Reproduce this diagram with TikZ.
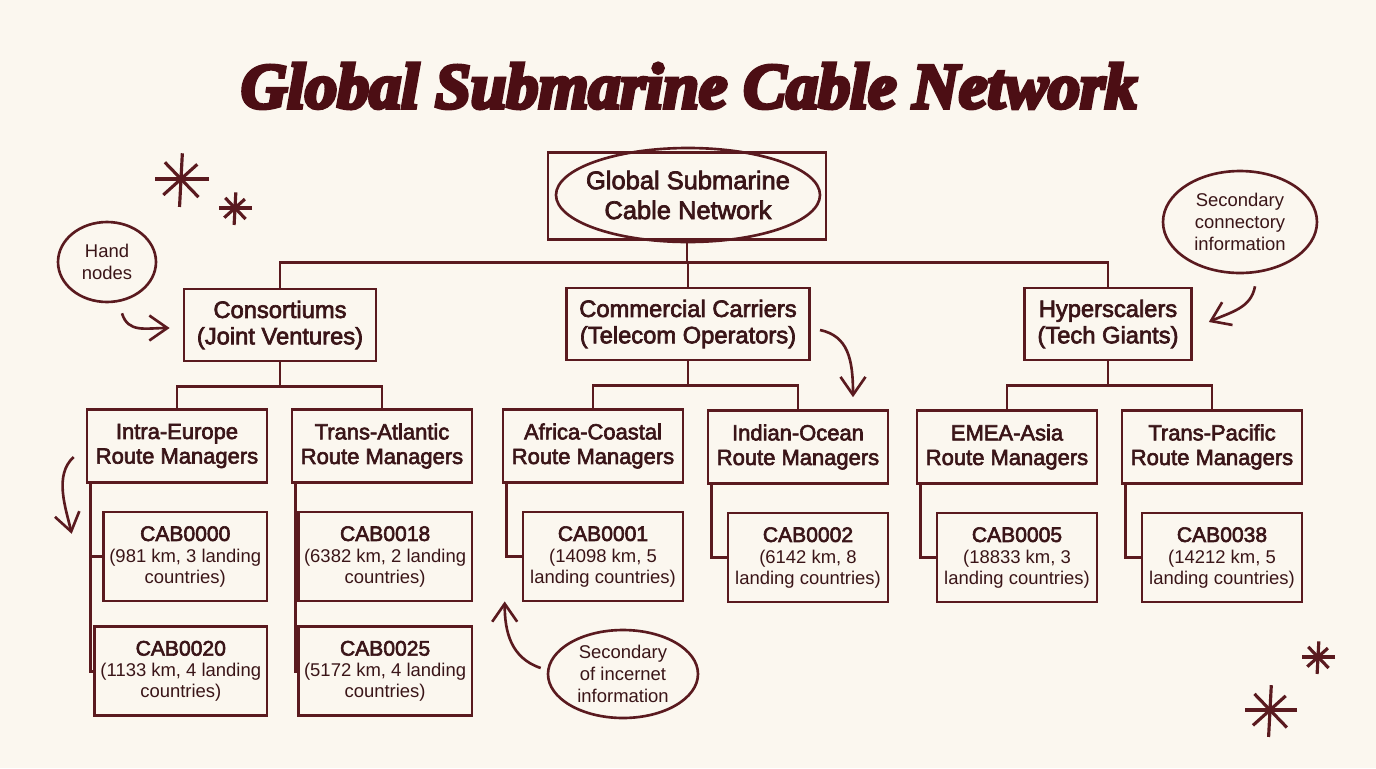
\documentclass[tikz,border=0pt]{standalone}
\usepackage{fontspec}
\setmainfont{Liberation Sans}
\newfontfamily\headfont[FakeBold=2.8]{Liberation Sans}
\newfontfamily\titlefont[FakeBold=6]{Liberation Serif}
\usetikzlibrary{arrows.meta, positioning, calc, shapes.geometric}

\definecolor{ink}{HTML}{5A1A1F}
\definecolor{txt}{HTML}{3A1518}
\definecolor{paper}{HTML}{FBF7EF}
\definecolor{titlered}{HTML}{4C0E14}

\newcommand{\cabtext}[3]{{\headfont\fontsize{12}{14}\selectfont #1}\\#2\\#3}

\begin{document}
\begin{tikzpicture}[
    x=0.02cm, y=-0.02cm,
    color=ink, line width=1.5pt,
    rootbox/.style={align=center, text=txt, font=\headfont\fontsize{14.5}{17}\selectfont},
    group/.style={draw, minimum height=1.44cm, inner xsep=0.26cm, align=center, text=txt, font=\headfont\fontsize{13.5}{15}\selectfont},
    route/.style={draw, minimum width=3.6cm, minimum height=1.46cm, align=center, text=txt, font=\headfont\fontsize{12.5}{14}\selectfont},
    cable/.style={draw, minimum width=3.2cm, minimum height=1.78cm, align=center, text=txt, font=\fontsize{10.5}{12}\selectfont},
    note/.style={ellipse, draw, inner sep=0pt, align=center, text=txt, font=\fontsize{10.5}{12.5}\selectfont},
    arrow/.style={-{Straight Barb[length=3.6mm, width=5mm]}},
    spark/.pic={
        \foreach \a/\r in {0/1, 46/0.9, 93/1, 138/0.85}
            \draw[line width=1.8pt] (\a:\r) -- (\a+180:0.92*\r);
    }
]
\useasboundingbox (0,0) rectangle (1376,768);
\fill[paper] (0,0) rectangle (1376,768);

% Title
\node[text=titlered, font=\titlefont\bfseries\itshape\fontsize{36.5}{42}\selectfont] (title) at (689,86) {Global Submarine Cable Network};

% Root
\node[rootbox] (root) at (688,195) {Global Submarine\\Cable Network};
\draw (root) ellipse [x radius=132, y radius=47];
\node[draw, minimum width=5.56cm, minimum height=1.74cm] (rootframe) at (687,196) {};

% Operator groups
\node[group] (cons) at (280,325) {Consortiums\\(Joint Ventures)};
\node[group] (comm) at (688,324) {Commercial Carriers\\(Telecom Operators)};
\node[group] (hyper) at (1108,324) {Hyperscalers\\(Tech Giants)};

% Route managers
\node[route] (ie) at (177,446) {Intra-Europe\\Route Managers};
\node[route] (ta) at (382,446) {Trans-Atlantic\\Route Managers};
\node[route] (ac) at (593,446) {Africa-Coastal\\Route Managers};
\node[route] (io) at (798,447) {Indian-Ocean\\Route Managers};
\node[route] (ea) at (1007,447) {EMEA-Asia\\Route Managers};
\node[route] (tp) at (1212,447) {Trans-Pacific\\Route Managers};

% Cables
\node[cable, anchor=north east] (c0) at ([yshift=-0.54cm]ie.south east) {\cabtext{CAB0000}{(981 km, 3 landing}{countries)}};
\node[cable, anchor=north east] (c20) at ([yshift=-0.46cm]c0.south east) {\cabtext{CAB0020}{(1133 km, 4 landing}{countries)}};
\node[cable, anchor=north east] (c18) at ([yshift=-0.54cm]ta.south east) {\cabtext{CAB0018}{(6382 km, 2 landing}{countries)}};
\node[cable, anchor=north east] (c25) at ([yshift=-0.46cm]c18.south east) {\cabtext{CAB0025}{(5172 km, 4 landing}{countries)}};
\node[cable, anchor=north east] (c1) at ([yshift=-0.54cm]ac.south east) {\cabtext{CAB0001}{(14098 km, 5}{landing countries)}};
\node[cable, anchor=north east] (c2) at ([yshift=-0.54cm]io.south east) {\cabtext{CAB0002}{(6142 km, 8}{landing countries)}};
\node[cable, anchor=north east] (c5) at ([yshift=-0.54cm]ea.south east) {\cabtext{CAB0005}{(18833 km, 3}{landing countries)}};
\node[cable, anchor=north east] (c38) at ([yshift=-0.54cm]tp.south east) {\cabtext{CAB0038}{(14212 km, 5}{landing countries)}};

% Notes
\node[note, minimum width=1.96cm, minimum height=1.6cm] (hand) at (107,262) {Hand\\nodes};
\node[note, minimum width=3.08cm, minimum height=2.04cm] (sec1) at (1240,222) {Secondary\\connectory\\information};
\node[note, minimum width=3.0cm, minimum height=1.76cm] (sec2) at (623,674) {Secondary\\of incernet\\information};

% Tree lines
\coordinate (bus0) at ([yshift=-0.44cm]rootframe.south);
\draw (rootframe.south) -- (bus0);
\foreach \n in {cons,comm,hyper}
    \draw (bus0) -| (\n.north);

\foreach \p/\a/\b in {cons/ie/ta, comm/ac/io, hyper/ea/tp} {
    \coordinate (\p-bus) at ([yshift=-0.48cm]\p.south);
    \draw (\p.south) -- (\p-bus);
    \draw (\a.north) |- (\p-bus) -| (\b.north);
}

\foreach \p/\c in {ie/c0, ie/c20, ta/c18, ta/c25, ac/c1, io/c2, ea/c5, tp/c38}
    \draw ([xshift=0.1cm]\p.south west) |- (\c.west);

% Note arrows
\draw[arrow] ([shift={(15,10)}]hand.south) .. controls +(6,20) and +(-24,0) .. ([shift={(-13,3)}]cons.west);
\draw[arrow] ([shift={(9,6)}]comm.east) .. controls +(28,6) and +(0,-38) .. ([shift={(55,-12)}]io.north);
\draw[arrow] ([shift={(15,12)}]sec1.south) .. controls +(-4,22) and +(22,-10) .. ([shift={(16,-2)}]hyper.east);
\draw[arrow] ([shift={(-12,11)}]ie.west) .. controls +(-20,18) and +(-6,-26) .. ([shift={(-14,50)}]ie.south west);
\draw[arrow] ([shift={(-6,-6)}]sec2.west) .. controls +(-30,-10) and +(0,30) .. ([shift={(-17,-1)}]c1.south west);

% Sparkles
\pic[scale=28] at (181,179) {spark};
\pic[scale=17] at (235,208) {spark};
\pic[scale=17] at (1318,657) {spark};
\pic[scale=27] at (1270,710) {spark};

\end{tikzpicture}
\end{document}
